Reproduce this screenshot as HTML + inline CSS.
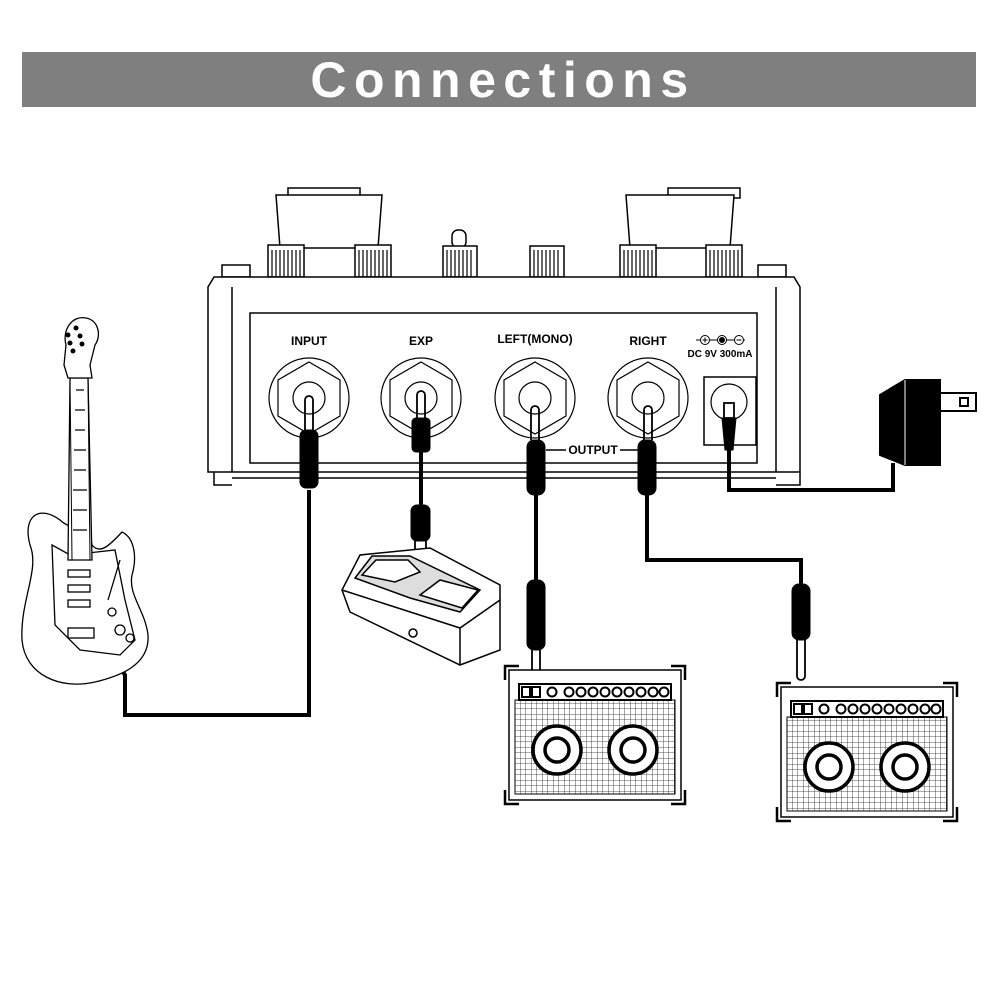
<!DOCTYPE html>
<html><head><meta charset="utf-8"><style>
html,body{margin:0;padding:0;background:#fff;width:1000px;height:1000px;overflow:hidden}
svg{display:block}
text{font-family:"Liberation Sans",Arial,sans-serif;font-weight:bold}
</style></head><body>
<svg width="1000" height="1000" viewBox="0 0 1000 1000" xmlns="http://www.w3.org/2000/svg">
<defs>
<pattern id="grid" width="5.5" height="5.5" patternUnits="userSpaceOnUse">
<path d="M0 0H5.5M0 0V5.5" stroke="#222" stroke-width="0.8" fill="none"/>
</pattern>
<g id="jack">
<circle r="40" fill="#fff" stroke="#000" stroke-width="1.2"/>
<polygon points="0,-36 31,-18 31,18 0,36 -31,18 -31,-18" fill="none" stroke="#000" stroke-width="1.2"/>
<circle r="16" fill="none" stroke="#000" stroke-width="1.2"/>
</g>
<g id="amp">
<rect x="0" y="0" width="172" height="130" fill="#fff" stroke="#000" stroke-width="1.5"/>
<rect x="6" y="30" width="160" height="94" fill="url(#grid)" stroke="#000" stroke-width="1"/>
<rect x="10" y="14" width="152" height="16" fill="#fff" stroke="#000" stroke-width="2"/>
<rect x="13" y="17" width="8" height="10" fill="#fff" stroke="#000" stroke-width="2"/>
<rect x="23" y="17" width="8" height="10" fill="#fff" stroke="#000" stroke-width="2"/>
<g fill="#fff" stroke="#000" stroke-width="2">
<circle cx="43" cy="22" r="4.5"/><circle cx="60" cy="22" r="4.5"/><circle cx="72" cy="22" r="4.5"/><circle cx="84" cy="22" r="4.5"/><circle cx="96" cy="22" r="4.5"/><circle cx="108" cy="22" r="4.5"/><circle cx="120" cy="22" r="4.5"/><circle cx="132" cy="22" r="4.5"/><circle cx="144" cy="22" r="4.5"/><circle cx="155" cy="22" r="4.5"/>
</g>
<g fill="#fff" stroke="#000" stroke-width="3.5">
<circle cx="48" cy="80" r="24"/><circle cx="48" cy="80" r="12"/>
<circle cx="124" cy="80" r="24"/><circle cx="124" cy="80" r="12"/>
</g>
<g fill="none" stroke="#000" stroke-width="2.5">
<path d="M-4 10V-4H10"/><path d="M162 -4H176V10"/><path d="M-4 120V134H10"/><path d="M162 134H176V120"/>
</g>
</g>
</defs>

<rect x="22" y="52" width="954" height="55" fill="#7f7f7f"/>
<text x="503" y="97" text-anchor="middle" fill="#fff" font-size="50" letter-spacing="7.5" style="font-weight:900">Connections</text>

<g fill="#fff" stroke="#000" stroke-width="1.5">
<rect x="288" y="188" width="72" height="10"/>
<path d="M276 195H382L378 248H280Z"/>
<rect x="268" y="245" width="36" height="32"/>
<rect x="355" y="245" width="36" height="32"/>
<rect x="668" y="188" width="72" height="10"/>
<path d="M626 195H734L730 248H630Z"/>
<rect x="620" y="245" width="36" height="32"/>
<rect x="706" y="245" width="36" height="32"/>
<rect x="452" y="230" width="14" height="18" rx="6"/>
<rect x="443" y="246" width="34" height="31"/>
<rect x="530" y="246" width="34" height="31"/>
<rect x="222" y="265" width="28" height="12"/>
<rect x="758" y="265" width="28" height="12"/>
</g>
<g stroke="#000" stroke-width="1.2">
<path d="M272 250V277M276 250V277M280 250V277M284 250V277M288 250V277M292 250V277M296 250V277M300 250V277"/>
<path d="M359 250V277M363 250V277M367 250V277M371 250V277M375 250V277M379 250V277M383 250V277M387 250V277"/>
<path d="M624 250V277M628 250V277M632 250V277M636 250V277M640 250V277M644 250V277M648 250V277M652 250V277"/>
<path d="M710 250V277M714 250V277M718 250V277M722 250V277M726 250V277M730 250V277M734 250V277M738 250V277"/>
<path d="M447 250V277M451 250V277M455 250V277M459 250V277M463 250V277M467 250V277M471 250V277"/>
<path d="M534 250V277M538 250V277M542 250V277M546 250V277M550 250V277M554 250V277M558 250V277"/>
</g>

<g fill="#fff" stroke="#000" stroke-width="1.5">
<path d="M214 277H794L800 287V472H208V287Z"/>
<rect x="250" y="313" width="507" height="150"/>
<path d="M232 287V472M776 287V472M214 472V485H232M776 485H800V472M232 478H776"/>
</g>

<g font-size="12" fill="#000" text-anchor="middle">
<text x="309" y="345">INPUT</text>
<text x="421" y="345">EXP</text>
<text x="535" y="343">LEFT(MONO)</text>
<text x="648" y="345">RIGHT</text>
<text x="720" y="357" font-size="10">DC 9V 300mA</text>
<text x="593" y="454">OUTPUT</text>
</g>
<g stroke="#000" fill="#fff" stroke-width="1">
<path d="M696 340H745"/>
<circle cx="705" cy="340" r="4.5"/><circle cx="722" cy="340" r="4.5"/><circle cx="739" cy="340" r="4.5"/>
<circle cx="722" cy="340" r="2.5" fill="#000"/>
<path d="M702.5 340h5M705 337.5v5M736.5 340h5"/>
</g>
<path d="M546 450H566M620 450H638" stroke="#000" stroke-width="1.5"/>

<use href="#jack" x="309" y="398"/>
<use href="#jack" x="421" y="398"/>
<use href="#jack" x="535" y="398"/>
<use href="#jack" x="648" y="398"/>
<rect x="704" y="377" width="52" height="68" fill="#fff" stroke="#000" stroke-width="1.5"/>
<circle cx="729" cy="402" r="18" fill="#fff" stroke="#000" stroke-width="1.2"/>

<g fill="none" stroke="#000" stroke-width="4">
<path d="M309 490V715H125V675L112 655"/>
<path d="M421 450V505"/>
<path d="M536 495V580"/>
<path d="M647 495V560H801V585"/>
<path d="M729 445V490H893V463"/>
</g>
<g fill="#000" stroke="#000">
<rect x="300" y="430" width="18" height="58" rx="6"/>
<rect x="412" y="418" width="18" height="34" rx="4"/>
<rect x="527" y="440" width="18" height="55" rx="7"/>
<rect x="638" y="440" width="18" height="55" rx="7"/>
<path d="M722 418H736L733 450H725Z"/>
<rect x="411" y="505" width="19" height="36" rx="6"/>
<rect x="527" y="580" width="18" height="70" rx="7"/>
<rect x="792" y="584" width="18" height="56" rx="7"/>
<rect x="103" y="648" width="12" height="20" rx="3" transform="rotate(-30 109 658)"/>
</g>
<g fill="#fff" stroke="#000" stroke-width="1.8">
<path d="M305 430V400M313 430V400M305 400a4 4 0 1 1 8 0"/>
<path d="M417 418V395M425 418V395M417 395a4 4 0 1 1 8 0"/>
<path d="M531 440V410M539 440V410M531 410a4 4 0 1 1 8 0"/>
<path d="M644 440V410M652 440V410M644 410a4 4 0 1 1 8 0"/>
<rect x="724" y="403" width="10" height="15"/>
<path d="M532 650V680M540 650V680M532 680a4 4 0 1 0 8 0"/>
<path d="M797 640V676M805 640V676M797 676a4 4 0 1 0 8 0"/>
<path d="M415 541V555M426 541V555"/>
</g>

<use href="#amp" x="509" y="670"/>
<use href="#amp" x="781" y="687"/>

<g stroke="#000" stroke-width="2">
<path d="M880 395L905 380H940V465H905L880 455Z" fill="#000"/>
<path d="M905 380V465" stroke="#fff" stroke-width="1"/>
<rect x="940" y="393" width="36" height="18" fill="#fff"/>
<rect x="960" y="398" width="8" height="8" fill="#fff"/>
</g>

<g fill="#fff" stroke="#000" stroke-width="1.5">
<path d="M342 590L360 555L430 548L500 585L500 650L460 665L350 612Z"/>
<path d="M342 590L460 628L500 600"/>
<path d="M460 628V665"/>
<path d="M355 578L372 556L410 556L480 590L460 612L410 598Z" fill="#ddd"/>
<path d="M362 575L376 560L408 560L420 572L395 582Z"/>
<path d="M420 595L440 580L478 590L462 608Z"/>
<circle cx="413" cy="633" r="4"/>
</g>

<g fill="#fff" stroke="#000" stroke-width="1.3">
<path d="M60 520C40 505 22 515 30 545C40 570 20 600 22 640C25 675 60 690 95 682C120 676 150 665 148 635C145 610 128 595 132 575C137 558 135 538 122 532C110 545 100 555 92 545C90 530 70 530 60 520Z"/>
<path d="M52 545L70 555L115 550L125 600L135 640L120 655L80 650L55 625Z" fill="#fff"/>
<path d="M70 378L88 378L92 560L68 560Z"/>
<path d="M66 345C62 330 72 315 86 318C98 320 102 335 95 345L90 365L92 378H68L64 365Z"/>
<path d="M76 390H84M75 410H85M75 430H85M74 450H86M74 470H86M73 490H87M73 510H87M73 530H87"/>
<path d="M70 378L72 560M88 378L90 560" stroke-width="1"/>
<rect x="68" y="570" width="22" height="7"/>
<rect x="68" y="585" width="22" height="7"/>
<rect x="68" y="600" width="22" height="7"/>
<rect x="68" y="628" width="26" height="10"/>
<circle cx="120" cy="630" r="5"/><circle cx="130" cy="638" r="4"/><circle cx="112" cy="612" r="4"/>
<path d="M120 560L108 600" />
</g>
<g fill="#000"><circle cx="68" cy="335" r="2.5"/><circle cx="70" cy="343" r="2.5"/><circle cx="73" cy="351" r="2.5"/><circle cx="76" cy="328" r="2.5"/><circle cx="80" cy="336" r="2.5"/><circle cx="82" cy="344" r="2.5"/></g>
</svg>
</body></html>
